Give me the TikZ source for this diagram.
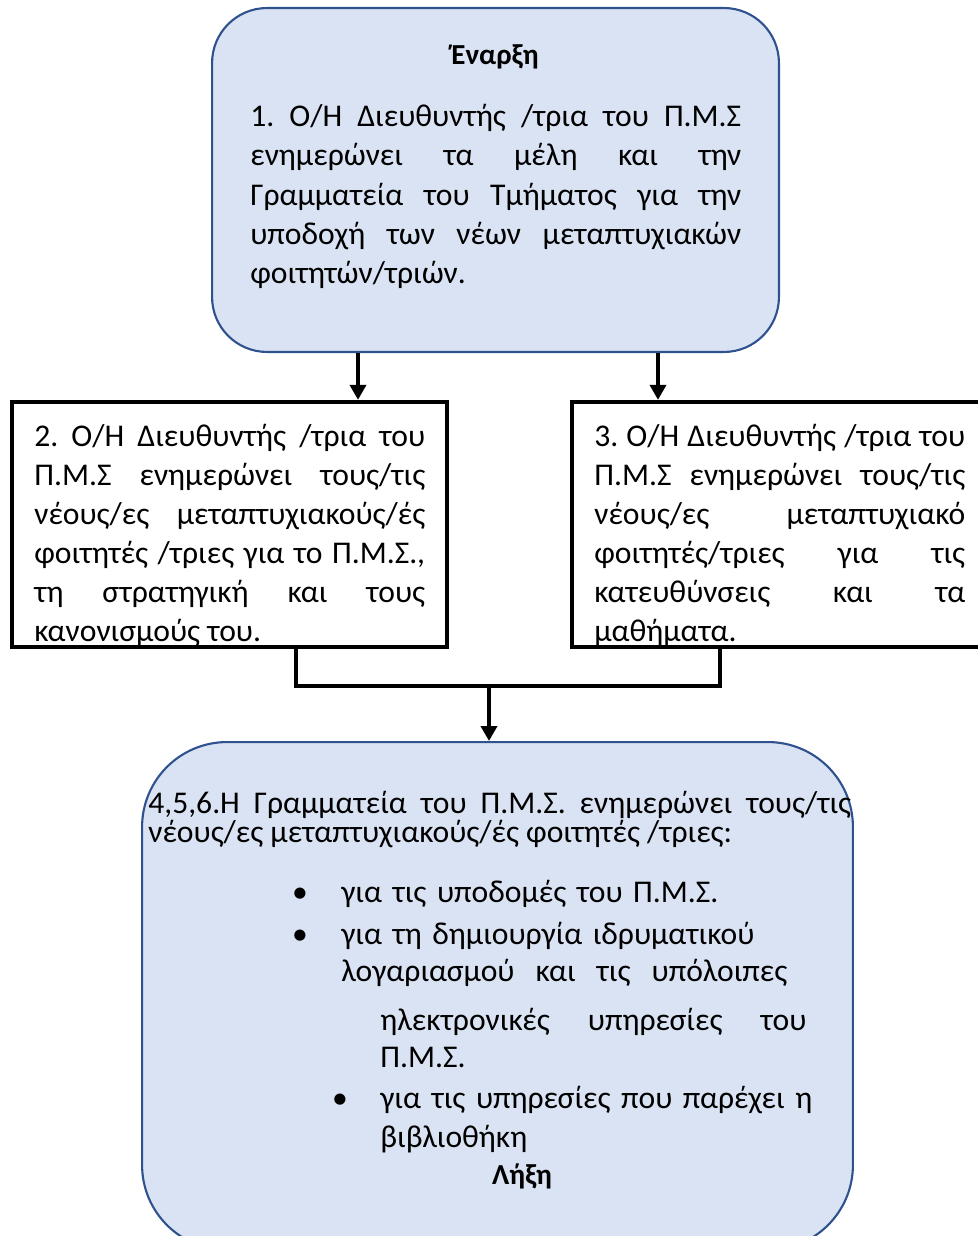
\documentclass[tikz,border=0pt]{standalone}
\usepackage{fontspec}
\setmainfont{Carlito}
\usetikzlibrary{arrows.meta}
\usetikzlibrary{calc}
\definecolor{boxfill}{HTML}{DAE3F3}
\definecolor{boxline}{HTML}{2F528F}
\tikzset{>={Triangle[length = 0.3cm, width = 0.32cm]}}
\tikzset{
	roundbox/.style = {draw = boxline, fill = boxfill, line width = 1.2pt},
	squarebox/.style = {draw = black, fill = white, line width = 2.5pt},
	para/.style = {inner sep = 0pt, anchor = base west, align = justify,
		font = \fontsize{18}{22.2}\selectfont\sloppy\frenchspacing},
	label/.style = {inner sep = 0pt, anchor = base, font = \fontsize{16.5}{22.2}\selectfont\bfseries},
	flow/.style = {line width = 2.2pt},
}

\begin{document}
\begin{tikzpicture}[x = 0.02cm, y = -0.02cm]
\useasboundingbox (0,0) rectangle (977,1236);

% boxes
\node[roundbox, rounded corners = 1.1cm, minimum width = 11.34cm, minimum height = 6.88cm] (start) at (495.5,180) {};
\node[squarebox, minimum width = 8.7cm, minimum height = 4.9cm] (inform2) at (229.5,524.5) {};
\node[squarebox, minimum width = 8.26cm, minimum height = 4.9cm] (inform3) at (778.5,524.5) {};
\node[roundbox, rounded corners = 1.7cm, minimum width = 14.22cm, minimum height = 10.16cm] (secr) at (497.5,996) {};

% top box
\node[label] (begin) at (495,65) {Έναρξη};
\node[para, text width = 9.82cm] (step1) at (250,127) {1. Ο/Η Διευθυντής /τρια του Π.Μ.Σ\linebreak
	ενημερώνει τα μέλη και την\linebreak
	Γραμματεία του Τμήματος για την\linebreak
	υποδοχή των νέων μεταπτυχιακών\linebreak
	φοιτητών/τριών.};

% middle boxes
\node[para, text width = 7.82cm] (step2) at (34,446) {2. Ο/Η Διευθυντής /τρια του\linebreak
	Π.Μ.Σ ενημερώνει τους/τις\linebreak
	νέους/ες μεταπτυχιακούς/ές\linebreak
	φοιτητές /τριες για το Π.Μ.Σ.,\linebreak
	τη στρατηγική και τους\linebreak
	κανονισμούς του.};
\node[para, text width = 7.42cm] (step3) at (594,446) {3. Ο/Η Διευθυντής /τρια του\linebreak
	Π.Μ.Σ ενημερώνει τους/τις\linebreak
	νέους/ες μεταπτυχιακό\linebreak
	φοιτητές/τριες για τις\linebreak
	κατευθύνσεις και τα\linebreak
	μαθήματα.};

% bottom box
\node[para, text width = 14.06cm, font = {\fontsize{18}{17}\selectfont\sloppy\frenchspacing\lineskiplimit=-100pt}] (step4) at (148,813) {4,5,6.Η Γραμματεία του Π.Μ.Σ. ενημερώνει τους/τις\linebreak
	νέους/ες μεταπτυχιακούς/ές φοιτητές /τριες:};
\foreach[count = \i] \x/\y in {300/902, 300/944, 340/1108}
	\node[label, font = \fontsize{18}{22}\selectfont] (dot\i) at (\x,\y) {•};
\node[para, text width = 9.5cm, align = left] (item1) at (341,902) {για τις υποδομές του Π.Μ.Σ.};
\node[para, text width = 9.5cm, align = left, font = \fontsize{18}{21.4}\selectfont] (item2) at (341,944) {για τη δημιουργία ιδρυματικού\\
	λογαριασμού\ \ και\ \ τις\ \ υπόλοιπες};
\node[para, text width = 8.52cm, font = \fontsize{18}{21.4}\selectfont\sloppy] (item2b) at (380,1030) {ηλεκτρονικές υπηρεσίες του\linebreak
	Π.Μ.Σ.};
\node[para, text width = 9cm, align = left] (item3) at (380,1108) {για τις υπηρεσίες που παρέχει η\\
	βιβλιοθήκη};
\node[label] (finish) at (522,1184) {Λήξη};

% connectors
\coordinate (a1) at (358,0);
\coordinate (a2) at (658,0);
\coordinate (b1) at (296,0);
\coordinate (b2) at (720,0);
\coordinate (join) at (489,686);

\draw[flow, ->] (start.south -| a1) -- (inform2.north -| a1);
\draw[flow, ->] (start.south -| a2) -- (inform3.north -| a2);
\draw[flow] (inform2.south -| b1) |- (join) -| (inform3.south -| b2);
\draw[flow, ->] (join) -- (secr.north -| join);

\end{tikzpicture}
\end{document}
